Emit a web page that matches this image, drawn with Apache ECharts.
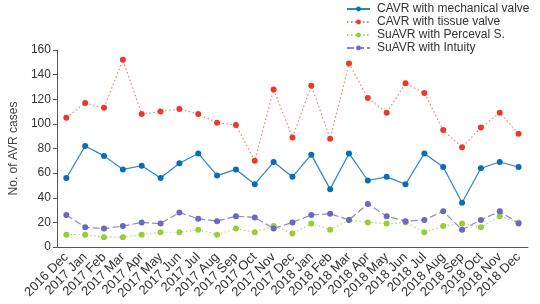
<!DOCTYPE html>
<html>
<head>
<meta charset="utf-8">
<script src="https://cdn.jsdelivr.net/npm/echarts@6/dist/echarts.min.js"></script>
<style>
  html, body { margin: 0; padding: 0; background: #fff; }
  #chart { width: 540px; height: 304px; }
</style>
</head>
<body>
<div id="chart"></div>
<script>
const months = [
  '2016 Dec', '2017 Jan', '2017 Feb', '2017 Mar', '2017 Apr', '2017 May', '2017 Jun',
  '2017 Jul', '2017 Aug', '2017 Sep', '2017 Oct', '2017 Nov', '2017 Dec',
  '2018 Jan', '2018 Feb', '2018 Mar', '2018 Apr', '2018 May', '2018 Jun',
  '2018 Jul', '2018 Aug', '2018 Sep', '2018 Oct', '2018 Nov', '2018 Dec'
]
const mechanical = [56, 82, 74, 63, 66, 56, 68, 76, 58, 63, 51, 69, 57,
  75, 47, 76, 54, 57, 51, 76, 65, 36, 64, 69, 65]
const tissue = [105, 117, 113, 152, 108, 110, 112, 108, 101, 99, 70, 128, 89,
  131, 88, 149, 121, 109, 133, 125, 95, 81, 97, 109, 92]
const perceval = [10, 10, 8, 8, 10, 12, 12, 14, 10, 15, 12, 17, 11,
  19, 14, 22, 20, 19, 20, 12, 17, 19, 16, 25, 20]
const intuity = [26, 16, 15, 17, 20, 19, 28, 23, 21, 25, 24, 15, 20,
  26, 27, 22, 35, 25, 21, 22, 29, 14, 22, 29, 19]

const chart = echarts.init(document.getElementById('chart'))

function line (name, data, color, lineColor, type) {
  return {
    name: name,
    type: 'line',
    data: data,
    symbol: 'circle',
    symbolSize: 6,
    itemStyle: { color: color },
    lineStyle: { color: lineColor, width: 1.2, type: type },
    animation: false
  }
}

chart.setOption({
  textStyle: { fontFamily: 'Liberation Sans, Arial, sans-serif' },
  legend: {
    orient: 'vertical',
    left: 341,
    top: -2,
    itemWidth: 23,
    itemHeight: 6,
    itemGap: 1,
    itemStyle: { borderWidth: 0 },
    textStyle: { fontSize: 12, color: '#333', padding: [0, 0, 0, 2] },
    data: ['CAVR with mechanical valve', 'CAVR with tissue valve', 'SuAVR with Perceval S.', 'SuAVR with Intuity']
  },
  grid: { left: 45, right: 12, top: 50, bottom: 57 },
  xAxis: {
    type: 'category',
    data: months,
    boundaryGap: true,
    axisLine: { lineStyle: { color: '#555' } },
    axisTick: { alignWithLabel: true, length: 4, lineStyle: { color: '#555' } },
    axisLabel: { rotate: 45, fontSize: 13, color: '#333', margin: 8, interval: 0 }
  },
  yAxis: {
    type: 'value',
    min: 0,
    max: 160,
    interval: 20,
    name: 'No. of AVR cases',
    nameLocation: 'middle',
    nameGap: 35,
    nameTextStyle: { fontSize: 12, color: '#444' },
    splitLine: { show: false },
    axisLine: { show: true, lineStyle: { color: '#555' } },
    axisTick: { show: true, length: 4, lineStyle: { color: '#555' } },
    axisLabel: { fontSize: 12, color: '#333', margin: 6 }
  },
  series: [
    line('CAVR with mechanical valve', mechanical, '#0a6eb4', '#2a85c4', 'solid'),
    line('CAVR with tissue valve', tissue, '#ec3a2a', '#f08070', [1.5, 2.5]),
    line('SuAVR with Perceval S.', perceval, '#9acd32', '#b2d866', [1.5, 2.5]),
    line('SuAVR with Intuity', intuity, '#6a68c0', '#8a88cc', [7, 3])
  ]
})
</script>
</body>
</html>
